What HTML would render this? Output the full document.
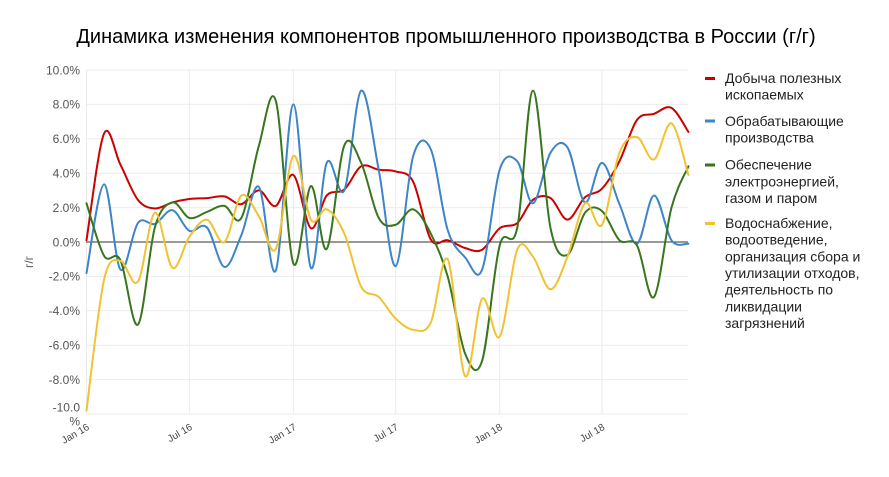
<!DOCTYPE html>
<html><head><meta charset="utf-8">
<style>
html,body{margin:0;padding:0;background:#fff;}
svg{display:block;font-family:"Liberation Sans",Arial,sans-serif;}
</style></head><body>
<svg id="c" width="889" height="477" viewBox="0 0 889 477" xmlns="http://www.w3.org/2000/svg">
<rect width="889" height="477" fill="#fff"/>
<text x="446" y="43" text-anchor="middle" font-size="20" fill="#000">Динамика изменения компонентов промышленного производства в России (г/г)</text>

<g stroke="#ebebeb" stroke-width="1" fill="none">
<line x1="86" y1="70" x2="688" y2="70"/>
<line x1="86" y1="104.4" x2="688" y2="104.4"/>
<line x1="86" y1="138.8" x2="688" y2="138.8"/>
<line x1="86" y1="173.2" x2="688" y2="173.2"/>
<line x1="86" y1="207.6" x2="688" y2="207.6"/>
<line x1="86" y1="276.4" x2="688" y2="276.4"/>
<line x1="86" y1="310.8" x2="688" y2="310.8"/>
<line x1="86" y1="345.2" x2="688" y2="345.2"/>
<line x1="86" y1="379.6" x2="688" y2="379.6"/>
<line x1="86" y1="414" x2="688" y2="414"/>
<line x1="86.5" y1="70" x2="86.5" y2="414"/>
<line x1="189.4" y1="70" x2="189.4" y2="414"/>
<line x1="293.4" y1="70" x2="293.4" y2="414"/>
<line x1="395.7" y1="70" x2="395.7" y2="414"/>
<line x1="499.7" y1="70" x2="499.7" y2="414"/>
<line x1="602" y1="70" x2="602" y2="414"/>
</g>
<line x1="86" y1="242" x2="688" y2="242" stroke="#333" stroke-width="1"/>

<g font-size="12" fill="#555" text-anchor="end">
<text x="80" y="74.3">10.0%</text>
<text x="80" y="108.7">8.0%</text>
<text x="80" y="143.1">6.0%</text>
<text x="80" y="177.5">4.0%</text>
<text x="80" y="211.9">2.0%</text>
<text x="80" y="246.3">0.0%</text>
<text x="80" y="280.7">-2.0%</text>
<text x="80" y="315.1">-4.0%</text>
<text x="80" y="349.5">-6.0%</text>
<text x="80" y="383.9">-8.0%</text>
<text x="80" y="411.3">-10.0</text>
<text x="80" y="425.3">%</text>
</g>
<text transform="translate(33,262) rotate(-90)" text-anchor="middle" font-size="12" fill="#555">г/г</text>

<g font-size="10" fill="#444" text-anchor="end">
<text transform="translate(90,429) rotate(-30)">Jan 16</text>
<text transform="translate(193,429) rotate(-30)">Jul 16</text>
<text transform="translate(297,429) rotate(-30)">Jan 17</text>
<text transform="translate(399,429) rotate(-30)">Jul 17</text>
<text transform="translate(503,429) rotate(-30)">Jan 18</text>
<text transform="translate(605.5,429) rotate(-30)">Jul 18</text>
</g>

<g id="series" fill="none" stroke-width="2" stroke-linejoin="round" stroke-linecap="round">
<path id="s0" stroke="#cc0000"/>
<path id="s1" stroke="#3d85c6"/>
<path id="s2" stroke="#38761d"/>
<path id="s3" stroke="#f1c232"/>
</g>

<rect x="705" y="77" width="10" height="3" fill="#cc0000"/>
<rect x="705" y="119.5" width="10" height="3" fill="#3d85c6"/>
<rect x="705" y="163.5" width="10" height="3" fill="#38761d"/>
<rect x="705" y="222" width="10" height="3" fill="#f1c232"/>
<g font-size="14" fill="#222">
<text x="725" y="83">Добыча полезных</text>
<text x="725" y="99.7">ископаемых</text>
<text x="725" y="126">Обрабатывающие</text>
<text x="725" y="142.7">производства</text>
<text x="725" y="169.7">Обеспечение</text>
<text x="725" y="186.3">электроэнергией,</text>
<text x="725" y="203">газом и паром</text>
<text x="725" y="228">Водоснабжение,</text>
<text x="725" y="244.7">водоотведение,</text>
<text x="725" y="261.3">организация сбора и</text>
<text x="725" y="278">утилизации отходов,</text>
<text x="725" y="294.7">деятельность по</text>
<text x="725" y="311.3">ликвидации</text>
<text x="725" y="328">загрязнений</text>
</g>
</svg>
<script>
(function(){
var data=[
[0.1,6.3,4.5,2.45,1.95,2.3,2.5,2.55,2.65,2.2,3.0,2.1,3.9,0.8,2.7,3.05,4.4,4.2,4.1,3.5,0.15,0.1,-0.35,-0.45,0.8,1.1,2.45,2.55,1.3,2.6,3.1,4.7,7.1,7.45,7.8,6.4],
[-1.8,3.35,-1.6,1.1,1.05,1.85,0.65,0.85,-1.45,0.4,3.2,-1.65,8.0,-1.5,4.6,3.0,8.8,4.2,-1.4,5.0,5.4,0.7,-0.9,-1.6,4.2,4.7,2.25,5.2,5.5,2.3,4.6,2.2,-0.1,2.7,0.1,-0.1],
[2.25,-0.8,-1.05,-4.8,0.85,2.3,1.4,1.75,2.1,1.4,5.6,8.2,-1.25,3.25,-0.4,5.6,4.6,1.4,1.0,1.9,0.5,-2.0,-6.5,-6.9,-0.2,0.8,8.8,0.8,-0.75,1.7,1.8,0.1,-0.2,-3.2,2.0,4.4],
[-9.8,-2.2,-1.1,-2.3,1.7,-1.5,0.3,1.3,0.0,2.7,1.5,-0.4,5.0,1.3,1.9,0.5,-2.6,-3.2,-4.45,-5.1,-4.7,-1.0,-7.8,-3.3,-5.5,-0.45,-0.85,-2.75,-0.85,2.25,1.0,5.2,6.1,4.8,6.9,3.9]
];
var d0=Date.UTC(2016,0,1);
function X(i){return 86.5+((Date.UTC(2016,i,1)-d0)/864e5)*0.5652;}
function Y(v){return 242-17.2*v;}
function f(n){return n.toFixed(2);}
function path(vals){
  var p=vals.map(function(v,i){return [X(i),Y(v)];});
  var n=p.length;
  var s='M'+f(p[0][0])+','+f(p[0][1]);
  for(var i=0;i<n-1;i++){
    var a=i>0?p[i-1]:p[0], b=p[i], c=p[i+1], d=i+2<n?p[i+2]:p[n-1];
    var c1x=b[0]+(c[0]-a[0])/6, c1y=b[1]+(c[1]-a[1])/6;
    var c2x=c[0]-(d[0]-b[0])/6, c2y=c[1]-(d[1]-b[1])/6;
    s+=' C'+f(c1x)+','+f(c1y)+' '+f(c2x)+','+f(c2y)+' '+f(c[0])+','+f(c[1]);
  }
  return s;
}
for(var k=0;k<4;k++){document.getElementById('s'+k).setAttribute('d',path(data[k]));}
})();
</script>
</body></html>
